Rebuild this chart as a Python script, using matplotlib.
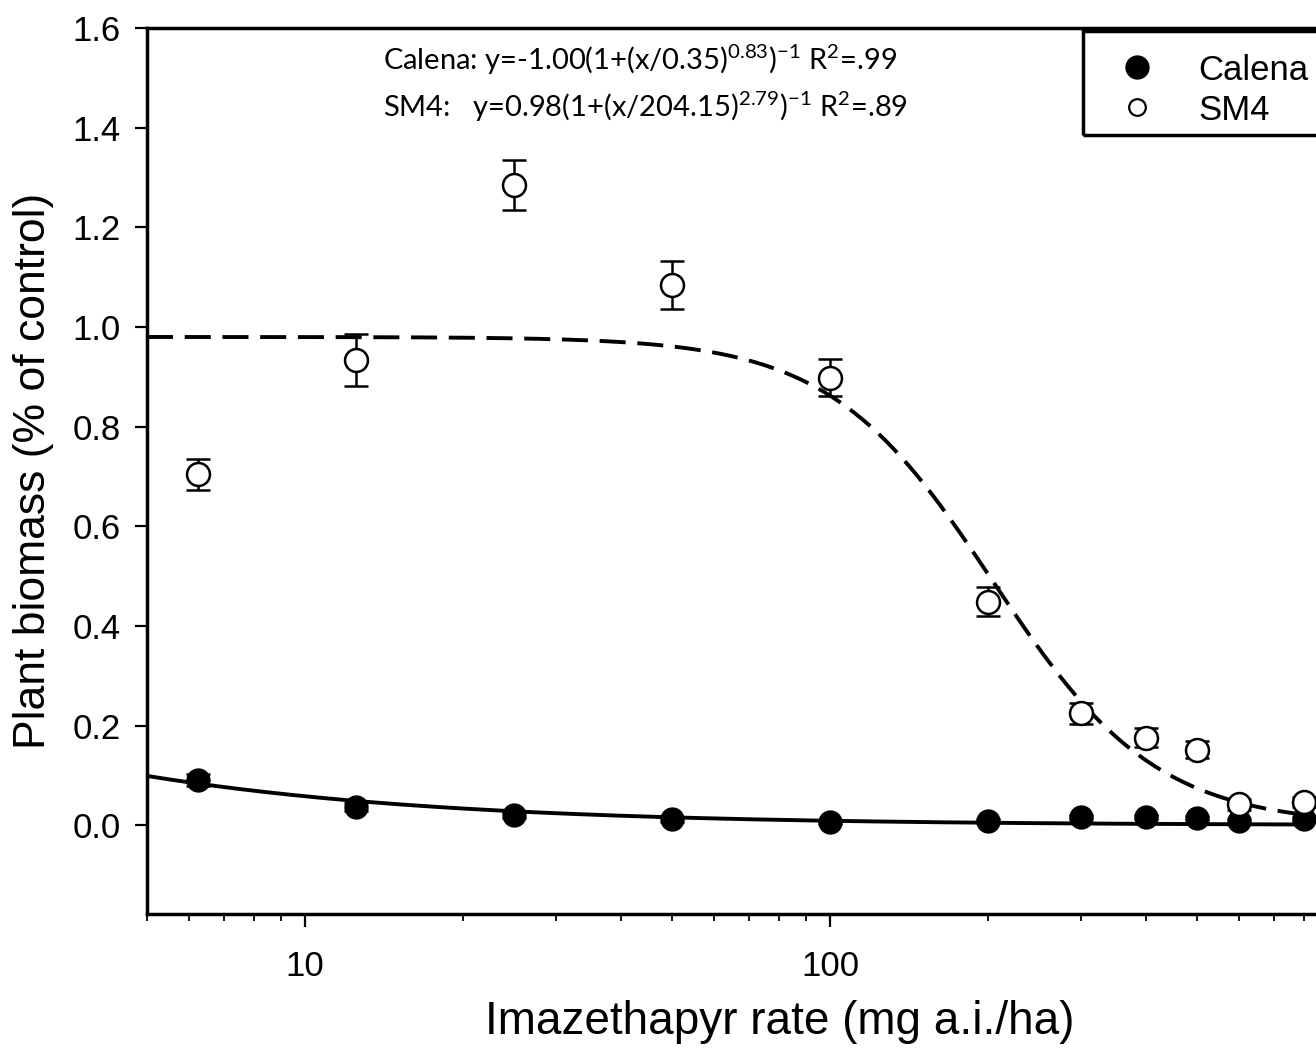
import numpy as np
import matplotlib
matplotlib.use("Agg")
import matplotlib.pyplot as plt
from matplotlib.lines import Line2D
from matplotlib.patches import Rectangle

plt.rcParams['font.family'] = ['Liberation Sans', 'DejaVu Sans']
plt.rcParams['mathtext.fontset'] = 'custom'
plt.rcParams['mathtext.rm'] = 'Lato'
plt.rcParams['mathtext.default'] = 'rm'

# herbicide rates (mg a.i./ha)
rates = [6.25, 12.5, 25, 50, 100, 200, 300, 400, 500, 600, 800]

# Calena (filled)
calena_y = [0.090, 0.036, 0.020, 0.012, 0.006, 0.009, 0.016, 0.016, 0.015, 0.009, 0.012]
calena_err = [0.012, 0.008, 0.006, 0.005, 0.004, 0.004, 0.004, 0.004, 0.004, 0.004, 0.004]

# SM4 (open)
sm4_y = [0.704, 0.934, 1.285, 1.085, 0.898, 0.449, 0.225, 0.176, 0.152, 0.042, 0.047]
sm4_err = [0.031, 0.052, 0.050, 0.048, 0.037, 0.029, 0.021, 0.019, 0.017, 0.011, 0.010]

# fitted log-logistic parameters (a, x0, b)
calena_fit = (1.00, 0.35, 0.83)
sm4_fit = (0.98, 204.15, 2.79)


def loglogistic(x, a, x0, b):
    return a / (1 + (x / x0) ** b)


fig = plt.figure(figsize=(13.16, 10.48), dpi=100)
# axes runs a little past the right edge of the picture, as in the original
ax = fig.add_axes([147 / 1316, 134 / 1048, 1184 / 1316, 886 / 1048])

xs = np.logspace(np.log10(5), np.log10(800), 300)
ax.plot(xs, loglogistic(xs, *calena_fit), color='black', lw=2.8, zorder=4)
ax.plot(xs, loglogistic(xs, *sm4_fit), color='black', lw=2.8,
        dashes=(6.7, 3.0), zorder=4)

ax.errorbar(rates, calena_y, yerr=calena_err, fmt='o', ms=16.5, mfc='black',
            mec='black', ecolor='black', elinewidth=1.8, capsize=8.5,
            capthick=1.8, zorder=3)
ax.errorbar(rates, sm4_y, yerr=sm4_err, fmt='o', ms=16.5, mfc='white',
            mec='black', mew=1.8, ecolor='black', elinewidth=1.8, capsize=8.5,
            capthick=1.8, zorder=5)

ax.set_xscale('log')
ax.set_xlim(5, 900)
ax.set_ylim(-0.178, 1.6)
ax.set_yticks(np.arange(0, 1.61, 0.2))
ax.set_yticklabels([f'{v:.1f}' for v in np.arange(0, 1.61, 0.2)])
ax.set_xticks([10, 100])
ax.set_xticklabels(['10', '100'])

for s in ax.spines.values():
    s.set_linewidth(2.5)
ax.tick_params(axis='both', which='major', labelsize=25, width=1.6,
               length=9, direction='out', pad=10)
ax.tick_params(axis='x', which='minor', width=1.3, length=5, direction='out')
ax.tick_params(axis='x', which='major', pad=17)

ax.set_xlabel('Imazethapyr rate (mg a.i./ha)', fontsize=33)
ax.xaxis.label.set_verticalalignment('baseline')
ax.xaxis.set_label_coords(780 / 1316, 1 - 1034 / 1048, transform=fig.transFigure)
ax.set_ylabel('Plant biomass (% of control)', fontsize=32, labelpad=13)

ax.text(383 / 1316, 1 - 60 / 1048,
        r'Calena: y=-1.00(1+(x/0.35)$^{0.83}$)$^{-1}$ R$^{2}$=.99',
        transform=fig.transFigure, fontsize=21, family='Lato', va='center')
ax.text(383 / 1316, 1 - 107 / 1048,
        r'SM4:   y=0.98(1+(x/204.15)$^{2.79}$)$^{-1}$ R$^{2}$=.89',
        transform=fig.transFigure, fontsize=21, family='Lato', va='center')

handles = [
    Line2D([], [], ls='none', marker='o', ms=16.5, mfc='black', mec='black'),
    Line2D([], [], ls='none', marker='o', ms=12, mfc='white', mec='black', mew=1.6),
]
leg = fig.legend(handles, ['Calena', 'SM4'], loc='upper left',
                 bbox_to_anchor=(1083 / 1316, 1 - 31 / 1048), fontsize=25,
                 frameon=False, borderpad=0.65, handletextpad=0.86,
                 labelspacing=0.2, borderaxespad=0, handlelength=1.8)
# legend box, cut by the right edge like in the original
fig.patches.append(Rectangle((1083 / 1316, 1 - 135 / 1048), 260 / 1316,
                             104 / 1048, transform=fig.transFigure,
                             fill=False, edgecolor='black', lw=2.5))

fig.savefig('out.png', dpi=100)
